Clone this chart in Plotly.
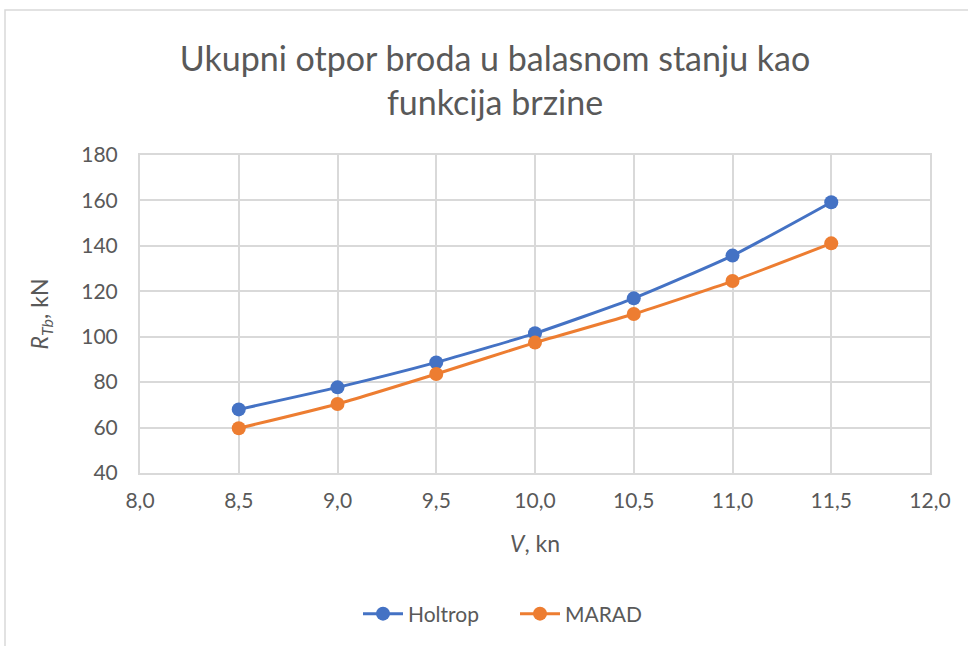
import plotly.graph_objects as go

speed = [8.5, 9.0, 9.5, 10.0, 10.5, 11.0, 11.5]
holtrop = [68.0, 77.7, 88.7, 101.5, 116.9, 135.7, 159.2]
marad = [59.7, 70.4, 83.6, 97.4, 110.0, 124.5, 141.1]
x_ticks = [8.0, 8.5, 9.0, 9.5, 10.0, 10.5, 11.0, 11.5, 12.0]
x_tick_labels = ["8,0", "8,5", "9,0", "9,5", "10,0", "10,5", "11,0", "11,5", "12,0"]
y_ticks = [40, 60, 80, 100, 120, 140, 160, 180]

FONT = "Lato"
TXT = "#595959"
GRID = "#d9d9d9"

fig = go.Figure()
fig.add_trace(go.Scatter(x=speed, y=holtrop, name="Holtrop", mode="lines+markers",
                         line=dict(color="#4472C4", width=3, shape="spline", smoothing=0.5),
                         marker=dict(size=14, color="#4472C4")))
fig.add_trace(go.Scatter(x=speed, y=marad, name="MARAD", mode="lines+markers",
                         line=dict(color="#ED7D31", width=3, shape="spline", smoothing=0.5),
                         marker=dict(size=14, color="#ED7D31")))

L, R, T, B = 140, 930, 155, 473
W, H = 968, 646

def px(x):
    return (x - L) / (R - L)

def py(y):
    return (B - y) / (B - T)

fig.update_layout(
    width=W, height=H,
    margin=dict(l=L, r=W - R, t=T, b=H - B),
    paper_bgcolor="white", plot_bgcolor="white",
    font=dict(family=FONT, color=TXT, size=21),
    title=dict(text="Ukupni otpor broda u balasnom stanju kao<br>funkcija brzine",
               x=495 / W, xref="container", xanchor="center",
               y=1 - 71 / H, yref="container", yanchor="middle",
               font=dict(family=FONT, size=34, color=TXT)),
    xaxis=dict(range=[8.0, 12.0], tickvals=x_ticks, ticktext=x_tick_labels,
               showgrid=True, gridcolor=GRID, gridwidth=2,
               showline=True, linecolor=GRID, linewidth=2, mirror=True,
               zeroline=False, ticks="", ticklen=0, ticklabelstandoff=8,
               tickfont=dict(size=21, color=TXT),
               title=dict(text="<i>V</i>, kn", font=dict(size=23, color=TXT), standoff=25)),
    yaxis=dict(range=[40, 180], tickvals=y_ticks,
               showgrid=True, gridcolor=GRID, gridwidth=2,
               showline=True, linecolor=GRID, linewidth=2, mirror=True,
               zeroline=False, ticks="", ticklen=0, ticklabelstandoff=16,
               tickfont=dict(size=21, color=TXT),
               title=dict(text="<i>R</i><sub><i>Tb</i></sub>, kN", font=dict(size=23, color=TXT), standoff=26)),
    legend=dict(orientation="h", x=515 / W, xref="container", xanchor="center",
                y=1 - 614 / H, yref="container", yanchor="middle",
                font=dict(size=21, color=TXT), itemwidth=40, entrywidth=102),
    showlegend=True,
    shapes=[dict(type="rect", xref="paper", yref="paper",
                 x0=px(5), x1=px(1000), y0=py(700), y1=py(10),
                 line=dict(color=GRID, width=1.5), fillcolor="rgba(0,0,0,0)", layer="below")],
)

fig.write_html("out.html", config={"displayModeBar": False},
               post_script="document.body.style.margin='0';document.body.style.overflow='hidden';")
